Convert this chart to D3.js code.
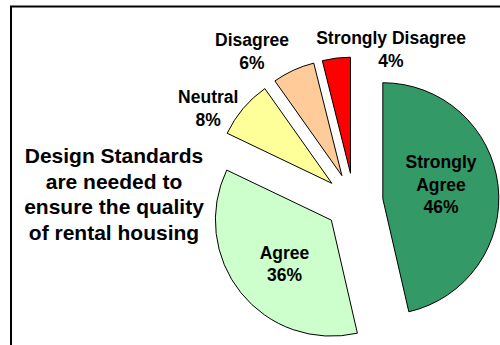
<!DOCTYPE html>
<html><head><meta charset="utf-8">
<script src="https://cdn.jsdelivr.net/npm/d3@7"></script>
<style>html,body{margin:0;padding:0;background:#fff;overflow:hidden} svg{display:block}</style>
</head><body>
<svg id="chart" width="500" height="345"></svg>
<script>
// ---- data ----
const categories = ["Strongly Agree", "Agree", "Neutral", "Disagree", "Strongly Disagree"];
const values = [46.4, 35.7, 8.1, 5.9, 3.9];
const percentLabels = ["46%", "36%", "8%", "6%", "4%"];
const labelLines = [["Strongly", "Agree"], ["Agree"], ["Neutral"], ["Disagree"], ["Strongly Disagree"]];
const titleLines = ["Design Standards", "are needed to", "ensure the quality", "of rental housing"];

// ---- style / layout ----
const colors = ["#339966", "#CCFFCC", "#FFFF99", "#FFCC99", "#FF0000"];
const W = 500, H = 345;
const cx = 354, cy = 202, R = 116, explode = 29;
// label placement (angle in degrees clockwise from 12 o'clock, distance from pie centre)
const labelPolar = [[78.6, 88.8], [228.4, 92.9], [302.8, 173.4], [325.9, 182], [13.6, 157.4]];
const FONT = "'Liberation Sans', Arial, Helvetica, sans-serif";

const svg = d3.select("#chart");
svg.append("rect").attr("width", W).attr("height", H).attr("fill", "#fff");

// frame (cropped on right/bottom)
svg.append("path")
  .attr("d", "M11," + (H + 5) + " V6.5 H" + (W + 5))
  .attr("fill", "none").attr("stroke", "#000").attr("stroke-width", 2);

const data = categories.map((c, i) => ({ name: c, value: values[i], idx: i }));
const pie = d3.pie().sort(null).value(d => d.value).startAngle(0).endAngle(2 * Math.PI);
const arcs = pie(data);
const arc = d3.arc().innerRadius(0).outerRadius(R);

const g = svg.append("g").attr("transform", `translate(${cx},${cy})`);
g.selectAll("path.slice").data(arcs).join("path")
  .attr("class", "slice")
  .attr("d", arc)
  .attr("transform", d => {
    const m = (d.startAngle + d.endAngle) / 2;
    return `translate(${explode * Math.sin(m)},${-explode * Math.cos(m)})`;
  })
  .attr("fill", d => colors[d.data.idx])
  .attr("stroke", "#000").attr("stroke-width", 1).attr("stroke-linejoin", "miter");

// data labels
const lh = 22.5, fs = 17.5;
arcs.forEach((d, i) => {
  const [angDeg, dist] = labelPolar[i];
  const a = angDeg * Math.PI / 180;
  const x = dist * Math.sin(a), y = -dist * Math.cos(a);
  const lines = labelLines[i].concat([percentLabels[i]]);
  const first = y - (lines.length - 1) / 2 * lh + fs * 0.36;
  const t = g.append("text")
    .attr("text-anchor", "middle")
    .attr("font-family", FONT).attr("font-weight", "bold")
    .attr("font-size", fs).attr("fill", "#000");
  lines.forEach((ln, k) => {
    t.append("tspan").attr("x", x).attr("y", first + k * lh).text(ln);
  });
});

// title text block
const tt = svg.append("text")
  .attr("text-anchor", "middle")
  .attr("font-family", FONT).attr("font-weight", "bold")
  .attr("font-size", 21).attr("fill", "#000");
titleLines.forEach((ln, k) => {
  tt.append("tspan").attr("x", 114).attr("y", 163 + k * 25.5).text(ln);
});
</script>
</body></html>
